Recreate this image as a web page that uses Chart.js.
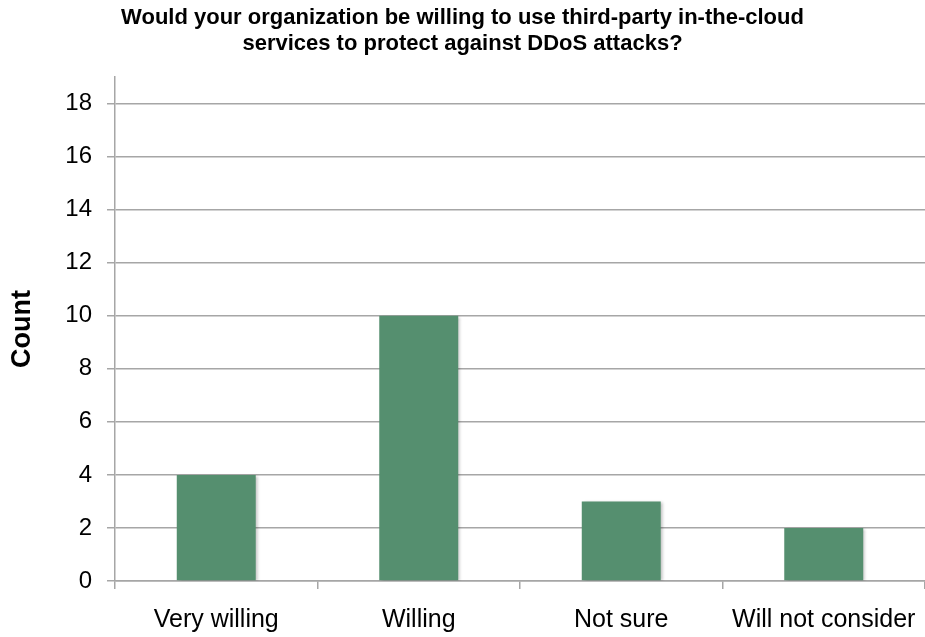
<!DOCTYPE html>
<html>
<head>
<meta charset="utf-8">
<script src="https://cdn.jsdelivr.net/npm/chart.js@4"></script>
<style>
  html, body { margin: 0; padding: 0; background: #fff; }
  #wrap { width: 925px; height: 637px; }
</style>
</head>
<body>
<div id="wrap"><canvas id="chart"></canvas></div>
<script>
// chart data
const categories = ['Very willing', 'Willing', 'Not sure', 'Will not consider'];
const counts = [4, 10, 3, 2];
const yTicks = [0, 2, 4, 6, 8, 10, 12, 14, 16, 18];
const titleLines = [
  'Would your organization be willing to use third-party in-the-cloud',
  'services to protect against DDoS attacks?'
];

const barColor = '#558f6f';
const gridColor = '#a6a6a6';

// soft shadow behind bars, like the office export
const barShadow = {
  id: 'barShadow',
  beforeDatasetsDraw(chart) {
    const ctx = chart.ctx;
    ctx.save();
    ctx.shadowColor = 'rgba(0,0,0,0.25)';
    ctx.shadowBlur = 3;
    ctx.shadowOffsetX = 2;
    ctx.shadowOffsetY = 1;
  },
  afterDatasetsDraw(chart) {
    chart.ctx.restore();
  }
};

new Chart(document.getElementById('chart'), {
  type: 'bar',
  data: {
    labels: categories,
    datasets: [{
      label: 'Count',
      data: counts,
      backgroundColor: barColor,
      borderWidth: 0,
      categoryPercentage: 1,
      barPercentage: 0.39
    }]
  },
  plugins: [barShadow],
  options: {
    responsive: true,
    maintainAspectRatio: false,
    animation: false,
    layout: { padding: { left: 0, right: 0, top: 0, bottom: 2 } },
    plugins: {
      legend: { display: false },
      tooltip: { enabled: false },
      title: {
        display: true,
        text: titleLines,
        color: '#000',
        font: { family: 'Liberation Sans', size: 22, weight: 'bold', lineHeight: 1.18 },
        padding: { top: 5, bottom: 20 }
      }
    },
    scales: {
      x: {
        offset: true,
        afterFit: (scale) => {
          scale.height = 54;
          scale.paddingLeft = 0;
          scale.paddingRight = 0;
        },
        grid: {
          offset: true,
          drawOnChartArea: false,
          color: gridColor,
          lineWidth: 1.5,
          tickLength: 8
        },
        border: { color: gridColor, width: 1.5 },
        ticks: {
          color: '#000',
          padding: 16,
          maxRotation: 0,
          font: { family: 'Liberation Sans', size: 25 }
        }
      },
      y: {
        min: 0,
        max: 19,
        afterBuildTicks: (scale) => {
          scale.ticks = yTicks.map(v => ({ value: v }));
        },
        afterFit: (scale) => {
          scale.width = 115;
        },
        grid: {
          color: gridColor,
          lineWidth: 1.5,
          tickLength: 8
        },
        border: { color: gridColor, width: 1.5 },
        ticks: {
          color: '#000',
          padding: 15,
          font: { family: 'Liberation Sans', size: 24 }
        },
        title: {
          display: true,
          text: 'Count',
          color: '#000',
          font: { family: 'Liberation Sans', size: 27, weight: 'bold' },
          padding: { top: 6, bottom: 26 }
        }
      }
    }
  }
});
</script>
</body>
</html>
